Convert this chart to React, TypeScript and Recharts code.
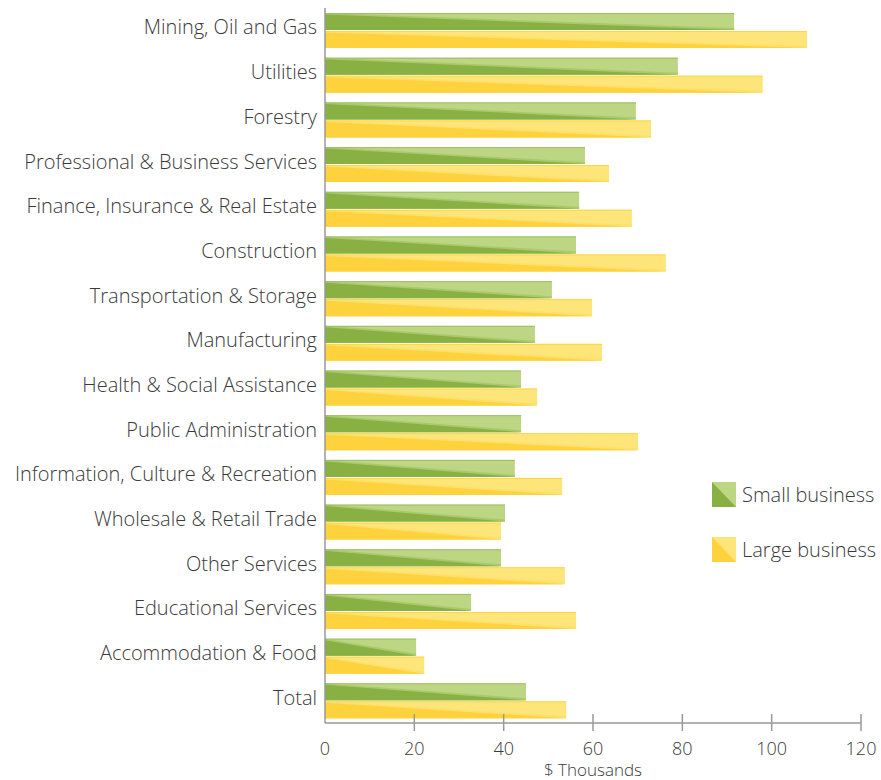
import React from 'react';
import { BarChart, Bar, XAxis, YAxis } from 'recharts';

const categories = [
  'Mining, Oil and Gas',
  'Utilities',
  'Forestry',
  'Professional & Business Services',
  'Finance, Insurance & Real Estate',
  'Construction',
  'Transportation & Storage',
  'Manufacturing',
  'Health & Social Assistance',
  'Public Administration',
  'Information, Culture & Recreation',
  'Wholesale & Retail Trade',
  'Other Services',
  'Educational Services',
  'Accommodation & Food',
  'Total',
];
const smallBusiness = [91.6, 79.0, 69.6, 58.2, 56.9, 56.2, 50.8, 47.0, 43.9, 43.9, 42.5, 40.3, 39.4, 32.7, 20.4, 45.0];
const largeBusiness = [107.9, 98.0, 73.0, 63.6, 68.7, 76.3, 59.8, 62.0, 47.5, 70.1, 53.1, 39.4, 53.7, 56.2, 22.2, 54.0];
const xTicks = [0, 20, 40, 60, 80, 100, 120];

const data = categories.map((name, i) => ({
  name,
  small: smallBusiness[i],
  large: largeBusiness[i],
}));

const FONT = '"Open Sans", "Noto Sans", sans-serif';
const TEXT = '#3a3a3a';

const GREEN = { light: '#bdd684', mid: '#a9c96c', dark: '#89b043', edge: '#9fbe62' };
const YELLOW = { light: '#fde57a', mid: '#fde06a', dark: '#fdd23c', edge: '#fcd548' };

const makeShape = (c: typeof GREEN) => (props: any) => {
  const { x, y, width, height } = props;
  if (!width || width <= 0) return <g />;
  return (
    <g>
      <rect x={x} y={y} width={width} height={height} fill={c.light} />
      <polygon
        points={`${x},${y} ${x + width},${y + height - 2} ${x + width},${y + height} ${x},${y + height}`}
        fill={c.mid}
      />
      <polygon
        points={`${x},${y + 1.5} ${x + width},${y + height} ${x},${y + height}`}
        fill={c.dark}
      />
      <line x1={x} y1={y + 0.5} x2={x + width} y2={y + 0.5} stroke={c.edge} strokeWidth={1} />
    </g>
  );
};

const XTick = (props: any) => {
  const { x, y, payload } = props;
  return (
    <g>
      {payload.value !== 0 && (
        <line x1={x} y1={y - 17} x2={x} y2={y} stroke="#999" strokeWidth={1.5} />
      )}
      <text x={x} y={y + 24} textAnchor="middle" fill={TEXT} fontSize={18} fontFamily={FONT} fontWeight={300}>
        {payload.value}
      </text>
    </g>
  );
};

const LegendSwatch = ({ c }: { c: typeof GREEN }) => (
  <svg width={24} height={25} style={{ display: 'block' }}>
    <rect x={0} y={0} width={24} height={25} fill={c.light} />
    <polygon points="0,0 24,25 0,25" fill={c.dark} />
  </svg>
);

const legendItems = [
  { label: 'Small business', c: GREEN },
  { label: 'Large business', c: YELLOW },
];

export default function App() {
  return (
    <div style={{ position: 'absolute', left: 0, top: 0, width: 881, height: 780, background: '#fff' }}>
      <BarChart
        width={881}
        height={780}
        data={data}
        layout="vertical"
        margin={{ top: 8, right: 20, left: 0, bottom: 0 }}
        barCategoryGap={5}
        barGap={1}
      >
        <XAxis
          type="number"
          domain={[0, 120]}
          ticks={xTicks}
          height={57}
          axisLine={{ stroke: '#999', strokeWidth: 1.5 }}
          tickLine={false}
          tick={<XTick />}
          interval={0}
          label={{
            value: '$ Thousands',
            position: 'insideBottom',
            offset: 4,
            fill: TEXT,
            fontSize: 17,
            fontFamily: FONT,
            fontWeight: 300,
          }}
        />
        <YAxis
          type="category"
          dataKey="name"
          width={325}
          axisLine={{ stroke: '#999', strokeWidth: 1.5 }}
          tickLine={false}
          tickSize={0}
          tickMargin={8}
          interval={0}
          tick={{ fill: TEXT, fontSize: 20, fontFamily: FONT, fontWeight: 300, dy: -3 }}
        />
        <Bar dataKey="small" name="Small business" shape={makeShape(GREEN)} isAnimationActive={false} />
        <Bar dataKey="large" name="Large business" shape={makeShape(YELLOW)} isAnimationActive={false} />
      </BarChart>
      <div
        style={{
          position: 'absolute',
          left: 712,
          top: 482,
          fontFamily: FONT,
          fontWeight: 300,
          fontSize: 20,
          color: TEXT,
        }}
      >
        {legendItems.map((item, i) => (
          <div key={item.label} style={{ display: 'flex', alignItems: 'center', marginTop: i === 0 ? 0 : 30, height: 25 }}>
            <LegendSwatch c={item.c} />
            <span style={{ marginLeft: 6, whiteSpace: 'nowrap' }}>{item.label}</span>
          </div>
        ))}
      </div>
    </div>
  );
}
